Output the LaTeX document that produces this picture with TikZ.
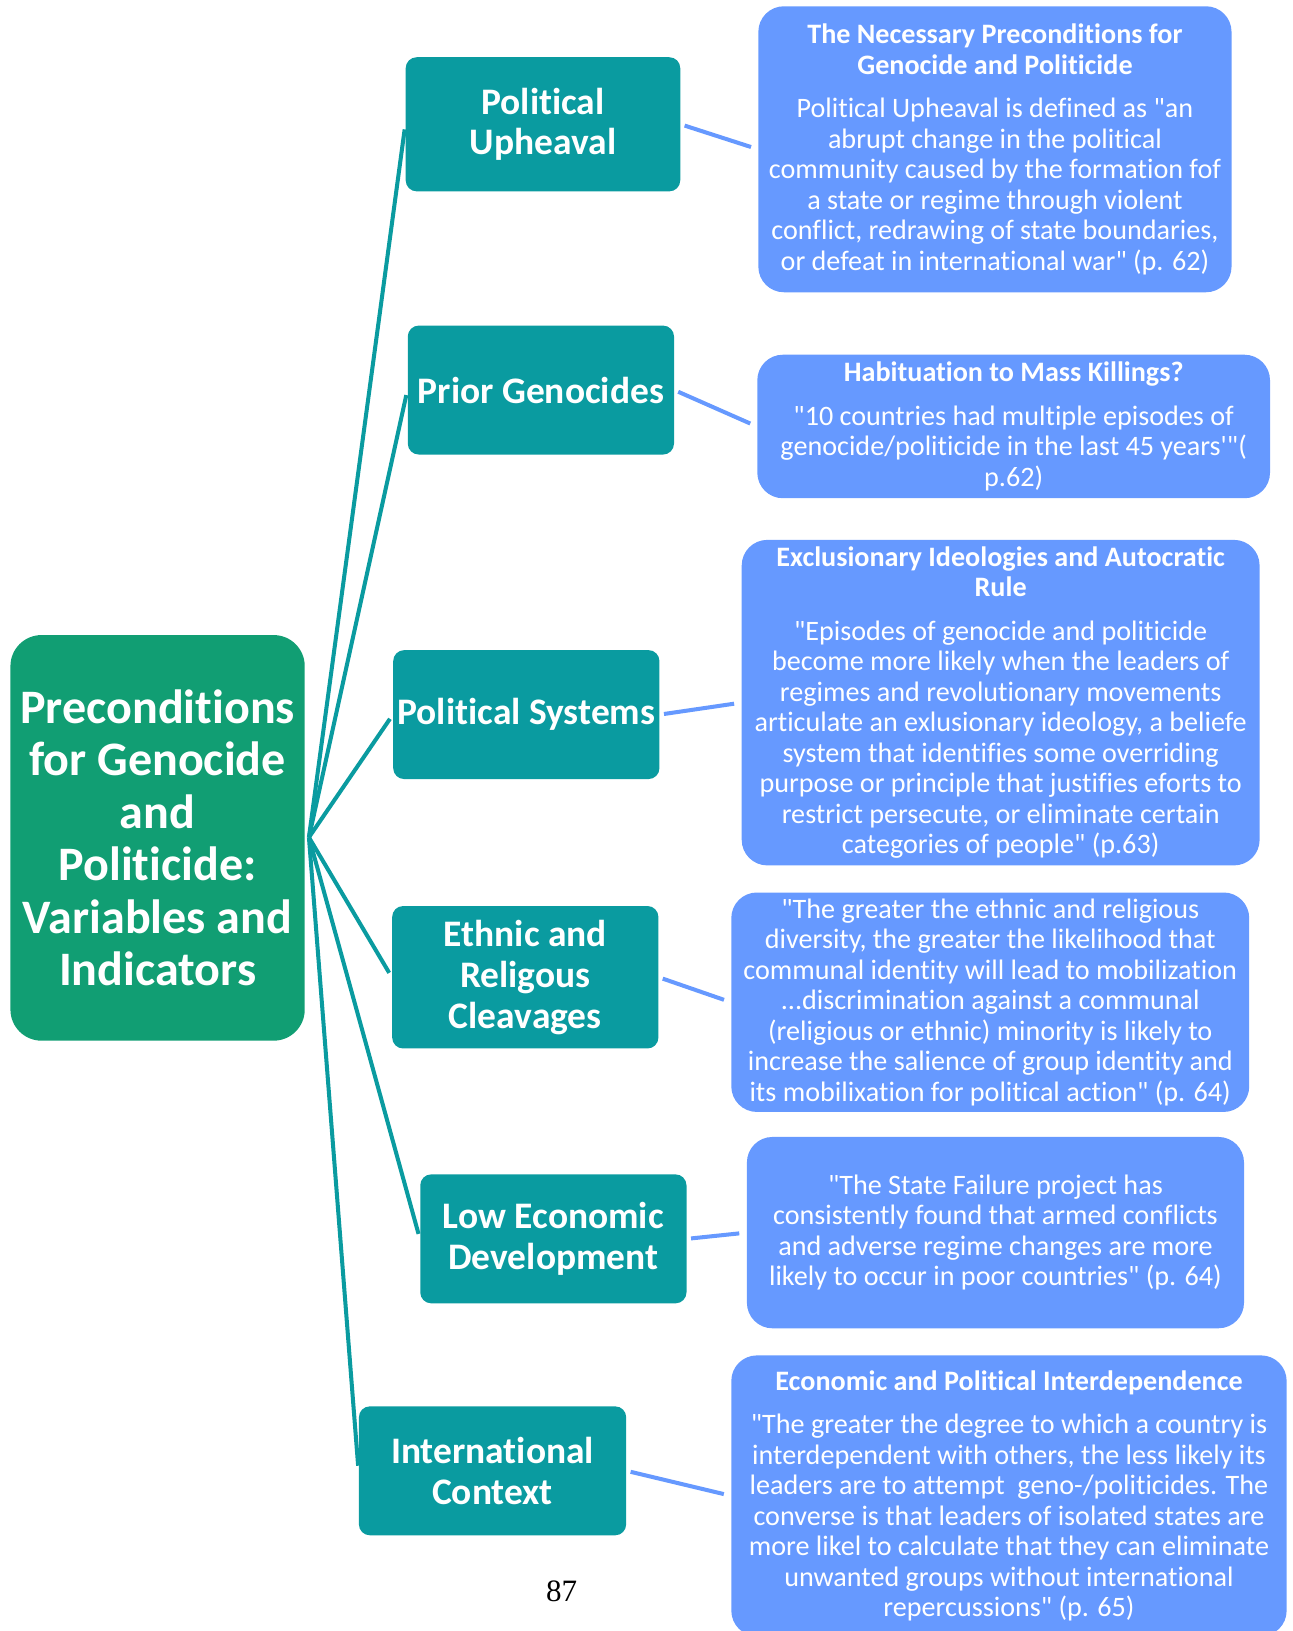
\documentclass[tikz,border=0pt]{standalone}
\usepackage{fontspec}
\setmainfont{Carlito}[Ligatures=NoCommon]
\newfontfamily\pagefont{Liberation Serif}
\newcommand\qd{\textquotedbl}
\definecolor{tealbox}{HTML}{0A9BA0}
\definecolor{greenbox}{HTML}{119E73}
\definecolor{bluebox}{HTML}{6699FF}
\tikzset{
 cbox/.style={rectangle, rounded corners=17pt, fill=greenbox, text=white, font=\fontsize{26.3}{28.7}\selectfont\bfseries, align=center, inner sep=0pt},
 tbox/.style={rectangle, rounded corners=6pt, fill=tealbox, text=white, font=\fontsize{20.5}{22.4}\selectfont\bfseries, align=center, inner sep=0pt, minimum width=5.12cm, minimum height=2.48cm},
 bbox/.style={rectangle, rounded corners=14pt, fill=bluebox, text=white, font=\fontsize{15.4}{16.7}\selectfont, align=center, inner sep=0pt},
 tline/.style={draw=tealbox, line width=2.2pt, shorten >=2.8pt},
 bline/.style={draw=bluebox, line width=2.2pt, shorten <=2.3pt, shorten >=4pt},
}
\begin{document}
\begin{tikzpicture}[x=0.02cm,y=-0.02cm]
\useasboundingbox (0,0) rectangle (1243,1568);
% central
\node[cbox, minimum width=5.66cm, minimum height=7.8cm] (c) at (151.5,805.5)
 {Preconditions\\for Genocide\\and\\Politicide:\\Variables and\\Indicators};
\coordinate (hub) at (297,805);
% teal boxes
\node[tbox, minimum width=5.28cm, minimum height=2.58cm] (pu) at (522,119.5) {Political\\Upheaval};
\node[tbox] (pg) at (520,375) {Prior Genocides};
\node[tbox] (ps) at (506,687) {Political Systems};
\node[tbox, minimum height=2.74cm] (er) at (505,939.5) {Ethnic and\\Religous\\Cleavages};
\node[tbox] (led) at (532,1191) {Low Economic\\Development};
\node[tbox, minimum width=5.14cm] (ic) at (473.5,1414) {International\\Context};
% blue boxes
\node[bbox, minimum width=9.1cm, minimum height=5.5cm] (b1) at (956.5,143.5)
 {\textbf{The Necessary Preconditions for}\\\textbf{Genocide and Politicide}\\[7pt]
 Political Upheaval is defined as \qd an\\
 abrupt change in the political\\
 community caused by the formation fof\\
 a state or regime through violent\\
 conflict, redrawing of state boundaries,\\
 or defeat in international war\qd{} (p. 62)};
\node[bbox, minimum width=9.86cm, minimum height=2.76cm] (b2) at (974.5,410)
 {\textbf{Habituation to Mass Killings?}\\[7pt]
 \qd 10 countries had multiple episodes of\\
 genocide/politicide in the last 45 years\textquotesingle\qd(\\
 p.62)};
\node[bbox, minimum width=9.96cm, minimum height=6.26cm] (b3) at (962,675.5)
 {\textbf{Exclusionary Ideologies and Autocratic}\\\textbf{Rule}\\[7pt]
 \qd Episodes of genocide and politicide\\
 become more likely when the leaders of\\
 regimes and revolutionary movements\\
 articulate an exlusionary ideology, a beliefe\\
 system that identifies some overriding\\
 purpose or principle that justifies eforts to\\
 restrict persecute, or eliminate certain\\
 categories of people\qd{} (p.63)};
\node[bbox, minimum width=9.96cm, minimum height=4.22cm] (b4) at (952,963.5)
 {\qd The greater the ethnic and religious\\
 diversity, the greater the likelihood that\\
 communal identity will lead to mobilization\\
 ...discrimination against a communal\\
 (religious or ethnic) minority is likely to\\
 increase the salience of group identity and\\
 its mobilixation for political action\qd{} (p. 64)};
\node[bbox, minimum width=9.56cm, minimum height=3.68cm] (b5) at (957,1185)
 {\qd The State Failure project has\\
 consistently found that armed conflicts\\
 and adverse regime changes are more\\
 likely to occur in poor countries\qd{} (p. 64)};
\node[bbox, minimum width=10.68cm, minimum height=5.4cm] (b6) at (970,1438)
 {\textbf{Economic and Political Interdependence}\\[7pt]
 \qd The greater the degree to which a country is\\
 interdependent with others, the less likely its\\
 leaders are to attempt\ \ geno-/politicides. The\\
 converse is that leaders of isolated states are\\
 more likel to calculate that they can eliminate\\
 unwanted groups without international\\
 repercussions\qd{} (p. 65)};
% connectors
\foreach \t in {pu,pg,ps,er,led,ic} \draw[tline] (hub) -- (\t.west);
\draw[bline] (pu.east) -- (b1.west);
\draw[bline] (pg.east) -- (b2.west);
\draw[bline] (ps.east) -- (b3.west);
\draw[bline] (er.east) -- (b4.west);
\draw[bline] (led.east) -- (b5.west);
\draw[bline] (ic.east) -- (b6.west);
% page number
\node[font=\pagefont\fontsize{17}{20}\selectfont] (pn) at (540,1530) {87};
\end{tikzpicture}
\end{document}
